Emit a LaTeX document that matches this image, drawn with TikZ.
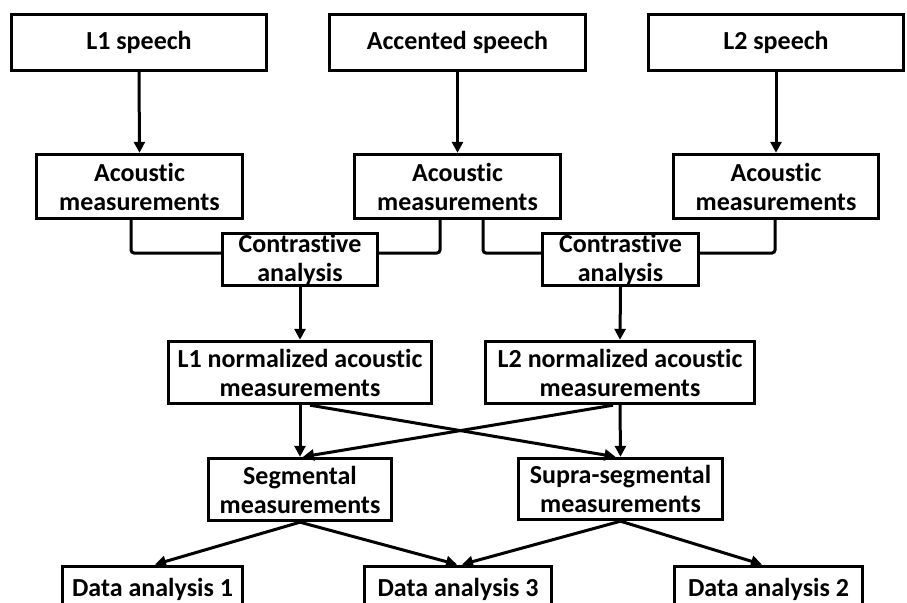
\documentclass[tikz,border=0pt]{standalone}
\usepackage{fontspec}
\setmainfont{Carlito}[RawFeature=-liga, RawFeature=-clig, RawFeature=-calt, RawFeature=-dlig]
\usetikzlibrary{arrows.meta}
\begin{document}
\begin{tikzpicture}[x=1pt,y=-1pt,
  box/.style={draw, line width=3.4pt, align=center, inner sep=0pt,
    font=\bfseries\fontsize{26}{29}\selectfont},
  flow/.style={line width=3pt, -{Triangle[length=11pt,width=11pt]}},
  bracket/.style={line width=3pt, rounded corners=3pt}]
\useasboundingbox (0,0) rectangle (907,602);

% speech sources
\node[box, minimum width=255, minimum height=56] (l1)  at (139,42.5)   {L1 speech};
\node[box, minimum width=256, minimum height=56] (acc) at (457.5,42.5) {Accented speech};
\node[box, minimum width=255, minimum height=56] (l2)  at (776,42.5)   {L2 speech};

% acoustic measurements
\node[box, minimum width=206, minimum height=64] (a1) at (139.5,186.5) {Acoustic\\measurements};
\node[box, minimum width=206, minimum height=64] (a2) at (457.5,186.5) {Acoustic\\measurements};
\node[box, minimum width=205, minimum height=64] (a3) at (776,186.5)   {Acoustic\\measurements};

% contrastive analyses
\node[box, minimum width=155, minimum height=52] (c1) at (300,259.5)   {Contrastive\\analysis};
\node[box, minimum width=156, minimum height=52] (c2) at (620.5,259.5) {Contrastive\\analysis};

% normalized measurements
\node[box, minimum width=263, minimum height=62] (n1) at (300,372.5) {L1 normalized acoustic\\measurements};
\node[box, minimum width=269, minimum height=62] (n2) at (620,372.5) {L2 normalized acoustic\\measurements};

% segmental / supra-segmental
\node[box, minimum width=183, minimum height=62] (seg) at (300,489.5) {Segmental\\measurements};
\node[box, minimum width=204, minimum height=61] (sup) at (620.5,489) {Supra-segmental\\measurements};

% data analyses (boxes run past the lower edge)
\node[box, minimum width=180, minimum height=50, anchor=north] (d1) at (152.5,564.5) {\raisebox{8pt}{Data analysis 1}};
\node[box, minimum width=187, minimum height=50, anchor=north] (d3) at (458,564.5)   {\raisebox{8pt}{Data analysis 3}};
\node[box, minimum width=188, minimum height=50, anchor=north] (d2) at (768.5,564.5) {\raisebox{8pt}{Data analysis 2}};

% sources to measurements
\draw[flow] (l1.south)  -- (a1.north);
\draw[flow] (acc.south) -- (a2.north);
\draw[flow] (l2.south)  -- (a3.north);

% measurements into contrastive analyses
\draw[bracket] ([xshift=-8.5]a1.south) |- ([yshift=6.5]c1.west);
\draw[bracket] ([xshift=-17.5]a2.south) |- ([yshift=6.5]c1.east);
\draw[bracket] ([xshift=25.5]a2.south) |- ([yshift=6.5]c2.west);
\draw[bracket] ([xshift=-1]a3.south) |- ([yshift=6.5]c2.east);

% contrastive analyses to normalized measurements
\draw[flow] (c1.south) -- (n1.north);
\draw[flow] (c2.south) -- (n2.north);

% normalized to segmental / supra-segmental
\draw[flow] (n1.south) -- (seg.north);
\draw[flow] (n2.south) -- (sup.north);
\draw[flow] ([xshift=10]n1.south) -- ([xshift=-5]sup.north);
\draw[flow] ([xshift=-7]n2.south) -- ([xshift=3]seg.north);

% to data analyses
\draw[flow] (seg.south) -- ([xshift=2.5]d1.north);
\draw[flow] (seg.south) -- ([xshift=-1]d3.north);
\draw[flow] (sup.south) -- ([xshift=4]d3.north);
\draw[flow] (sup.south) -- ([xshift=-6.5]d2.north);
\end{tikzpicture}
\end{document}
